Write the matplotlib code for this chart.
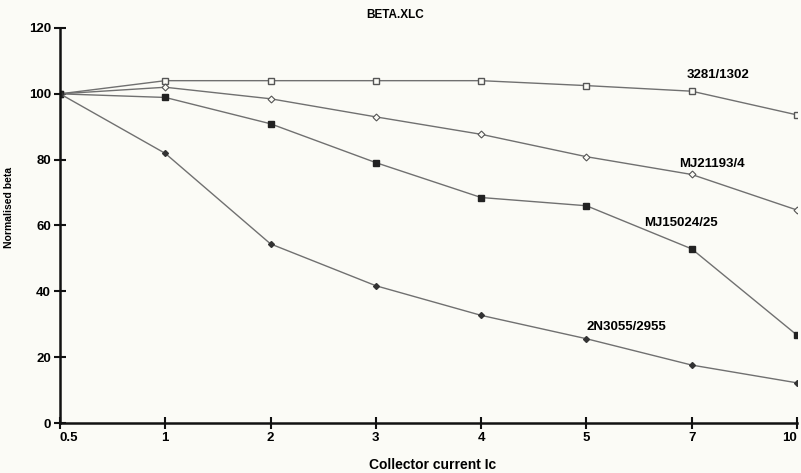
import matplotlib.pyplot as plt

plt.rcParams['font.family'] = ['Liberation Sans', 'DejaVu Sans']

# collector current, plotted as equally spaced categories
currents = ['0.5', '1', '2', '3', '4', '5', '7', '10']

beta_3281 = [100, 104, 104, 104, 104, 102.5, 100.8, 93.6]
beta_mj21193 = [100, 102, 98.5, 93, 87.7, 80.9, 75.5, 64.7]
beta_mj15024 = [100, 98.9, 90.9, 79.1, 68.5, 66, 52.9, 26.7]
beta_2n3055 = [100, 81.9, 54.4, 41.7, 32.7, 25.6, 17.6, 12.2]

names = ['3281/1302', 'MJ21193/4', 'MJ15024/25', '2N3055/2955']

bg = '#fbfbf6'
fig = plt.figure(figsize=(8.01, 4.73), dpi=100, facecolor=bg)
ax = fig.add_axes([60/801, 50/473, 737/801, 395/473])
ax.set_facecolor(bg)

x = list(range(len(currents)))
line = '#707070'
ax.plot(x, beta_3281, '-', color=line, lw=1.0, marker='s', ms=5,
        mfc=bg, mec='#555555', mew=1.0)
ax.plot(x, beta_mj21193, '-', color=line, lw=1.0, marker='D', ms=3.5,
        mfc=bg, mec='#555555', mew=0.8)
ax.plot(x, beta_mj15024, '-', color=line, lw=1.0, marker='s', ms=4.5,
        mfc='#222222', mec='#222222')
ax.plot(x, beta_2n3055, '-', color=line, lw=1.0, marker='D', ms=3,
        mfc='#333333', mec='#333333')

# series labels placed beside their lines
lab_kw = dict(fontsize=9.5, fontweight='bold', ha='left', va='center')
ax.text(5.95, 105.7, names[0], **lab_kw)
ax.text(5.88, 78.8, names[1], **lab_kw)
ax.text(5.55, 60.8, names[2], **lab_kw)
ax.text(5.0, 29.2, names[3], **lab_kw)

ax.set_xlim(0, len(currents) - 1)
ax.set_ylim(0, 120)
ax.set_xticks(x)
ax.set_xticklabels(currents)
ax.set_yticks(range(0, 121, 20))

for side in ['top', 'right']:
    ax.spines[side].set_visible(False)
for side in ['left', 'bottom']:
    ax.spines[side].set_linewidth(1.8)
    ax.spines[side].set_color('#111111')
ax.spines['left'].set_bounds(0, 120)

ax.tick_params(direction='inout', length=9, width=1.5, color='#111111',
               labelsize=9.5, pad=2)
for lab in ax.get_xticklabels() + ax.get_yticklabels():
    lab.set_fontweight('bold')
# last label sits at the figure edge
ax.get_xticklabels()[-1].set_horizontalalignment('right')
ax.get_xticklabels()[0].set_horizontalalignment('left')

ax.set_xlabel('Collector current Ic', fontsize=10, fontweight='bold')
ax.xaxis.set_label_coords(0.505, -0.088)
ax.set_ylabel('Normalised beta', fontsize=7.5, fontweight='bold')
ax.yaxis.set_label_coords(-0.063, 0.545)

fig.text(395/801, 1 - 15/473, 'BETA.XLC', fontsize=8.5, fontweight='bold',
         ha='center', va='center')

fig.savefig('out.png', dpi=100, facecolor=bg)
